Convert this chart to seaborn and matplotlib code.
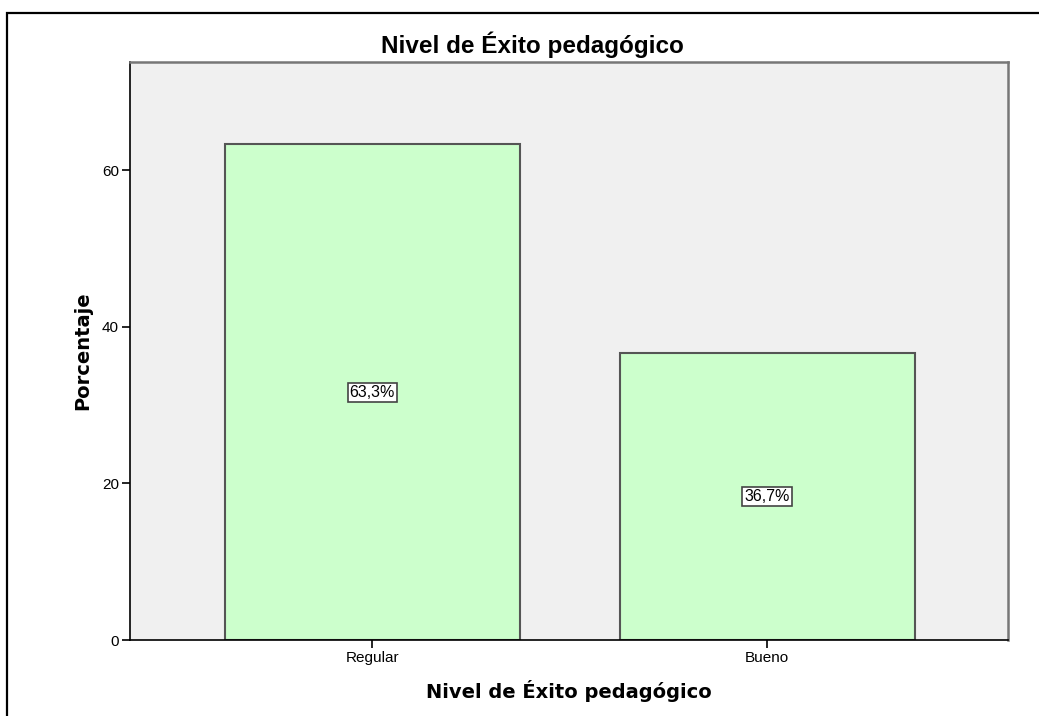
import matplotlib
matplotlib.use('Agg')
import matplotlib.pyplot as plt
import seaborn as sns
import pandas as pd
from matplotlib.patches import Rectangle

# Data
categorias = ['Regular', 'Bueno']
porcentajes = [63.3, 36.7]
etiquetas = ['63,3%', '36,7%']

df = pd.DataFrame({'nivel': categorias, 'porcentaje': porcentajes})

sns.set_theme(style='white')
plt.rcParams['font.family'] = ['Liberation Sans', 'DejaVu Sans']
plt.rcParams['text.color'] = 'black'
plt.rcParams['axes.labelcolor'] = 'black'
plt.rcParams['xtick.color'] = 'black'
plt.rcParams['ytick.color'] = 'black'

fig = plt.figure(figsize=(10.39, 7.16), dpi=100)
W, H = 1039, 716
ax = fig.add_axes([130 / W, 1 - 640 / H, (1008 - 130) / W, (640 - 62) / H])
ax.set_facecolor('#F0F0F0')

sns.barplot(data=df, x='nivel', y='porcentaje', ax=ax, color='#CCFFCC',
            edgecolor='#555555', linewidth=1.5, width=0.747, saturation=1)

# value labels in boxes at middle of each bar
for i, (v, t) in enumerate(zip(porcentajes, etiquetas)):
    ax.text(i, v / 2, t, ha='center', va='center', fontsize=11.5, color='black',
            bbox=dict(boxstyle='square,pad=0.12', fc='white', ec='#444444', lw=1.2))

ax.set_xlim(-0.613, 1.61)
ax.set_ylim(0, 73.8)
ax.set_yticks([0, 20, 40, 60])
ax.tick_params(axis='both', direction='out', length=6, width=1.2, color='black',
               labelsize=11, left=True, bottom=True, pad=2)

for s in ['top', 'right']:
    ax.spines[s].set_color('#777777')
    ax.spines[s].set_linewidth(1.8)
for s in ['left', 'bottom']:
    ax.spines[s].set_color('black')
    ax.spines[s].set_linewidth(1.2)

ax.set_xlabel('Nivel de Éxito pedagógico', fontsize=14, fontweight='bold',
              family='DejaVu Sans')
ax.xaxis.set_label_coords(0.5, -(680 - 640) / 578)
ax.set_ylabel('Porcentaje', fontsize=14, fontweight='bold', family='DejaVu Sans')
ax.yaxis.set_label_coords(-(130 - 92) / 878, 0.5)

# title sits a little left of the axes centre, as in the original output
fig.text(532 / W, 1 - 53 / H, 'Nivel de Éxito pedagógico', ha='center', va='baseline',
         fontsize=17.5, fontweight='bold')

# outer frame like the SPSS output
fig.patches.append(Rectangle((7 / W, -0.05), 1.1, 1 - 13 / H + 0.05, transform=fig.transFigure,
                             fill=False, ec='black', lw=1.6, clip_on=False))

fig.savefig('out.png', dpi=100, facecolor='white')
